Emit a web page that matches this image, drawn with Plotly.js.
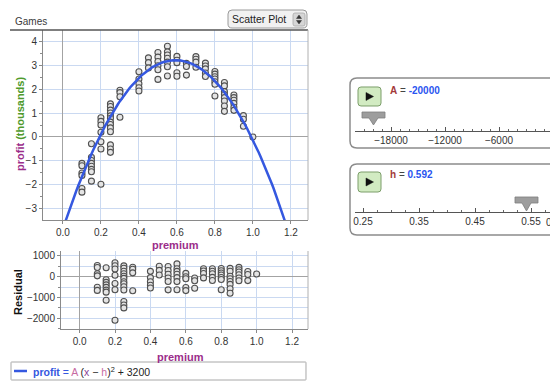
<!DOCTYPE html>
<html><head><meta charset="utf-8">
<script src="https://cdn.plot.ly/plotly-3.0.1.min.js"></script>
<style>html,body{margin:0;padding:0;background:#fff}#chart{width:550px;height:383px}</style>
</head><body><div id="chart"></div>
<script>
// ---- data ----
const premium = [
 0.1,0.1,0.1,0.1,0.1,0.1,
 0.15,0.15,0.15,0.15,0.15,0.15,0.15,0.15,
 0.2,0.2,0.2,0.2,0.2,0.2,0.2,
 0.25,0.25,0.25,0.25,0.25,0.25,0.25,0.25,0.25,0.25,0.25,0.25,0.25,
 0.3,0.3,0.3,0.3,
 0.4,0.4,0.4,0.4,0.4,
 0.45,0.45,0.45,
 0.5,0.5,0.5,0.5,0.5,0.5,
 0.55,0.55,0.55,0.55,0.55,0.55,0.55,
 0.6,0.6,0.6,0.6,0.6,
 0.65,0.65,0.65,
 0.7,0.7,0.7,0.7,
 0.75,0.75,0.75,0.75,0.75,
 0.8,0.8,0.8,0.8,0.8,0.8,0.8,
 0.85,0.85,0.85,0.85,0.85,0.85,0.85,0.85,
 0.9,0.9,0.9,0.9,0.9,0.9,
 0.95,0.95,0.95,
 1.0
];
const profit = [ // thousands
 -1.1,-1.2,-1.5,-1.6,-2.15,-2.3,
 -0.28,-0.85,-0.98,-1.1,-1.22,-1.35,-1.45,-1.84,
 0.8,0.65,0.5,0.2,-0.2,-0.5,-1.97,
 1.38,1.27,1.12,1.0,0.88,0.78,0.62,0.52,0.38,0.22,-0.33,-0.5,-0.64,
 1.95,1.85,1.68,0.82,
 2.72,2.42,2.22,2.05,1.92,
 3.3,3.1,2.88,
 3.52,3.33,3.15,2.97,2.8,2.4,
 3.78,3.55,3.42,3.28,3.12,2.93,2.54,
 3.36,3.2,3.1,2.68,2.53,
 3.07,2.94,2.58,
 3.35,3.24,3.12,2.91,
 3.08,2.96,2.84,2.67,2.52,
 2.73,2.62,2.51,2.42,2.3,2.2,1.71,
 2.27,2.13,1.89,1.77,1.64,1.5,1.29,1.07,
 1.75,1.64,1.53,1.4,1.24,1.11,
 0.89,0.74,0.45,
 0.0
];
// model parameters (sliders)
const A = -20000;
const h = 0.592;
const C = 3200;
const sliderAticks = [-18000, -12000, -6000];
const sliderHticks = [0.25, 0.35, 0.45, 0.55];

// ---- derived ----
const model = x => (A * (x - h) * (x - h) + C);
const resid = premium.map((x, i) => profit[i] * 1000 - model(x));
const cx = [], cy = [];
for (let k = 0; k <= 140; k++) { const x = -0.1 + k * 0.01; cx.push(x); cy.push(model(x) / 1000); }

// ---- helpers (pixel -> paper) ----
const W = 550, H = 383;
const X = p => p / W, Y = p => 1 - p / H;
const pt = (x, y) => X(x).toFixed(5) + ',' + Y(y).toFixed(5);
function rrect(x0, y0, x1, y1, r) {
  return 'M' + pt(x0 + r, y0) + ' L' + pt(x1 - r, y0) + ' Q' + pt(x1, y0) + ' ' + pt(x1, y0 + r) +
    ' L' + pt(x1, y1 - r) + ' Q' + pt(x1, y1) + ' ' + pt(x1 - r, y1) +
    ' L' + pt(x0 + r, y1) + ' Q' + pt(x0, y1) + ' ' + pt(x0, y1 - r) +
    ' L' + pt(x0, y0 + r) + ' Q' + pt(x0, y0) + ' ' + pt(x0 + r, y0) + ' Z';
}
function poly(list) { return 'M' + list.map(p => pt(p[0], p[1])).join(' L') + ' Z'; }
const pshape = (path, fill, line, w) => ({type: 'path', xref: 'paper', yref: 'paper', path: path, fillcolor: fill, line: {color: line, width: w === undefined ? 1 : w}, layer: 'above'});
const lshape = (x0, y0, x1, y1, color, w) => ({type: 'line', xref: 'paper', yref: 'paper', x0: X(x0), y0: Y(y0), x1: X(x1), y1: Y(y1), line: {color: color, width: w}});
const ann = (x, y, text, opts) => Object.assign({xref: 'paper', yref: 'paper', x: X(x), y: Y(y), text: text, showarrow: false, xanchor: 'center', yanchor: 'middle'}, opts || {});

const PURPLE = '#9b2d8a', GREEN = '#4f9a2c', BLUE = '#3558e0', GRID = '#cad9f1';

const marker = {symbol: 'circle', size: 6, color: '#e4e4e4', line: {color: '#505050', width: 1.1}};
const traces = [
  {x: premium, y: profit, type: 'scatter', mode: 'markers', marker: marker, xaxis: 'x', yaxis: 'y', hoverinfo: 'skip'},
  {x: cx, y: cy, type: 'scatter', mode: 'lines', line: {color: BLUE, width: 2.5}, xaxis: 'x', yaxis: 'y', hoverinfo: 'skip'},
  {x: premium, y: resid, type: 'scatter', mode: 'markers', marker: marker, xaxis: 'x2', yaxis: 'y2', hoverinfo: 'skip'},
  {x: [null], y: [null], type: 'scatter', mode: 'markers', xaxis: 'x3', yaxis: 'y3'},
  {x: [null], y: [null], type: 'scatter', mode: 'markers', xaxis: 'x4', yaxis: 'y4'}
];

const tickFont = {size: 10, color: '#333'};
const baseX = {range: [-0.105, 1.29], tick0: 0, dtick: 0.2, tickformat: '.1f', showgrid: true, gridcolor: GRID,
  zeroline: true, zerolinecolor: '#a3a3a3', zerolinewidth: 1, showline: true, linecolor: '#8a8a8a', linewidth: 1,
  ticks: 'outside', ticklen: 3, tickcolor: '#8a8a8a', tickfont: tickFont, fixedrange: true};

const layout = {
  width: W, height: H, margin: {l: 0, r: 0, t: 0, b: 0}, paper_bgcolor: '#fff', plot_bgcolor: '#fff',
  showlegend: false, font: {family: 'Liberation Sans, Arial, sans-serif', size: 10, color: '#333'},
  xaxis: Object.assign({}, baseX, {domain: [X(43), X(308)], anchor: 'y'}),
  yaxis: {domain: [Y(220), Y(30)], range: [-3.46, 4.46], dtick: 1, tick0: 0, anchor: 'x', showgrid: true, gridcolor: GRID,
    zeroline: true, zerolinecolor: '#a3a3a3', zerolinewidth: 1, showline: true, linecolor: '#8a8a8a',
    ticks: 'outside', ticklen: 3, tickcolor: '#8a8a8a', tickfont: tickFont, fixedrange: true,
    minor: {dtick: 0.5, ticks: 'outside', ticklen: 2, tickcolor: '#8a8a8a', showgrid: false}},
  xaxis2: Object.assign({}, baseX, {domain: [X(61), X(308)], anchor: 'y2'}),
  yaxis2: {domain: [Y(329), Y(251)], range: [-2514, 1236], dtick: 1000, tick0: 0, anchor: 'x2', showgrid: true, gridcolor: GRID,
    zeroline: true, zerolinecolor: '#a3a3a3', zerolinewidth: 1, showline: true, linecolor: '#8a8a8a',
    ticks: 'outside', ticklen: 3, tickcolor: '#8a8a8a', tickfont: tickFont, tickformat: 'd', fixedrange: true,
    minor: {dtick: 500, ticks: 'outside', ticklen: 2, tickcolor: '#8a8a8a', showgrid: true, gridcolor: GRID}},
  xaxis3: {domain: [X(355), 1], range: [-22000, -22000 + 195 / 9 * 1000], anchor: 'y3', tickvals: sliderAticks, tickformat: 'd',
    showgrid: false, zeroline: false, showline: true, linecolor: '#555', ticks: 'inside', ticklen: 4, tickcolor: '#555',
    tickfont: {size: 10, color: '#333'}, fixedrange: true,
    minor: {dtick: 1000, tick0: 0, ticks: 'inside', ticklen: 2.5, tickcolor: '#666', showgrid: false}},
  yaxis3: {domain: [Y(131), Y(126)], range: [0, 1], visible: false, anchor: 'x3', fixedrange: true},
  xaxis4: {domain: [X(355), 1], range: [0.25 - 8 / 560, 0.25 + 187 / 560], anchor: 'y4', tickvals: sliderHticks, tickformat: '.2f',
    showgrid: false, zeroline: false, showline: true, linecolor: '#555', ticks: 'inside', ticklen: 4, tickcolor: '#555',
    tickfont: {size: 10, color: '#333'}, fixedrange: true,
    minor: {dtick: 0.025, tick0: 0, ticks: 'inside', ticklen: 2.5, tickcolor: '#666', showgrid: false}},
  yaxis4: {domain: [Y(212), Y(207)], range: [0, 1], visible: false, anchor: 'x4', fixedrange: true},
  shapes: [
    lshape(10, 30, 308, 30, '#555', 1.5),
    lshape(308, 30, 308, 220, '#b0b0b0', 1),
    lshape(308, 251, 308, 329, '#b0b0b0', 1),
    // Scatter Plot popup
    pshape(rrect(228, 10, 307, 28, 4), '#f1f1f1', '#9a9a9a', 1),
    pshape(rrect(293, 13, 305, 26, 2), '#d6d6d6', '#a8a8a8', 0.8),
    pshape(poly([[296.5, 18.5], [301.5, 18.5], [299, 15]]), '#333', '#333', 0.5),
    pshape(poly([[296.5, 20.5], [301.5, 20.5], [299, 24]]), '#333', '#333', 0.5),
    // slider panels
    pshape('M' + pt(570, 78) + ' L' + pt(357, 78) + ' Q' + pt(350, 78) + ' ' + pt(350, 85) + ' L' + pt(350, 141) + ' Q' + pt(350, 148) + ' ' + pt(357, 148) + ' L' + pt(570, 148), 'rgba(0,0,0,0)', '#8c8c8c', 1.5),
    pshape('M' + pt(570, 164) + ' L' + pt(357, 164) + ' Q' + pt(350, 164) + ' ' + pt(350, 171) + ' L' + pt(350, 228) + ' Q' + pt(350, 235) + ' ' + pt(357, 235) + ' L' + pt(570, 235), 'rgba(0,0,0,0)', '#8c8c8c', 1.5),
    // play buttons
    pshape(rrect(358, 87, 381, 106, 3), '#d2ebc2', '#7c9e6a', 1),
    pshape(poly([[366, 92.5], [366, 100.5], [373.5, 96.5]]), '#111', '#111', 0.5),
    pshape(rrect(358, 172, 381, 192, 3), '#d2ebc2', '#7c9e6a', 1),
    pshape(poly([[366, 178], [366, 186], [373.5, 182]]), '#111', '#111', 0.5),
    // slider thumbs
    pshape(poly([[362, 112], [385, 112], [385, 118], [378, 118], [373.5, 125], [369, 118], [362, 118]]), '#9d9d9d', '#7d7d7d', 0.8),
    pshape(poly([[515, 197], [538, 197], [538, 203], [531, 203], [526.5, 211], [522, 203], [515, 203]]), '#9d9d9d', '#7d7d7d', 0.8),
    // legend box
    pshape(rrect(11, 362, 306, 380, 0.5), '#fff', '#a8a8a8', 1),
    lshape(14, 371, 27, 371, BLUE, 2.5)
  ],
  annotations: [
    ann(13, 21, 'Games', {xanchor: 'left', font: {size: 10, color: '#3a3a3a'}}),
    ann(259, 19, 'Scatter Plot', {font: {size: 10.5, color: '#222'}}),
    ann(20, 124, '<b><span style="color:' + PURPLE + '">profit</span> <span style="color:' + GREEN + '">(thousands)</span></b>', {textangle: -90, font: {size: 11}}),
    ann(175, 245, '<b>premium</b>', {font: {size: 11, color: PURPLE}}),
    ann(18, 292, '<b>Residual</b>', {textangle: -90, font: {size: 11, color: '#111'}}),
    ann(180, 357, '<b>premium</b>', {font: {size: 11, color: PURPLE}}),
    ann(31, 371, '<span style="color:' + BLUE + '"><b>profit</b> =</span> <span style="color:#c86aa2">A</span> (<span style="color:#8a3f98">x</span> − <span style="color:#c86aa2">h</span>)<sup>2</sup> + ' + C,
      {xanchor: 'left', font: {size: 10.5, color: '#222'}}),
    ann(388, 90, '<span style="color:#a33a3a"><b>A</b></span> = <span style="color:#2a55f0"><b>' + A + '</b></span>', {xanchor: 'left', font: {size: 10, color: '#444'}}),
    ann(388, 175, '<span style="color:#a33a3a"><b>h</b></span> = <span style="color:#2a55f0"><b>' + h + '</b></span>', {xanchor: 'left', font: {size: 10, color: '#444'}}),
    ann(544, 222, '0.65', {xanchor: 'left', font: {size: 10, color: '#333'}})
  ]
};

Plotly.newPlot('chart', traces, layout, {staticPlot: true, displayModeBar: false});
</script>
</body></html>
